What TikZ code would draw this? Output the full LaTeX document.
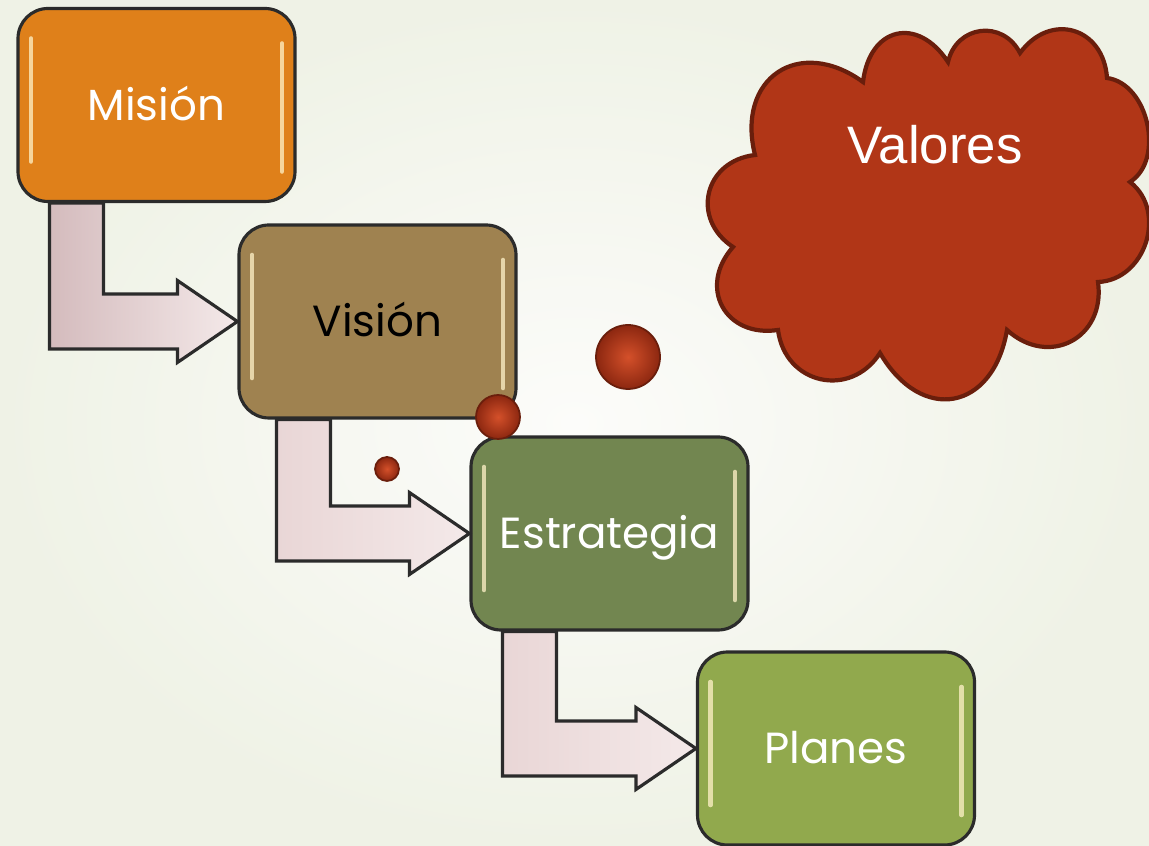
\documentclass[tikz,border=0pt]{standalone}
\usepackage{fontspec}
\newfontfamily\boxfont{Poppins}
\newfontfamily\cloudfont{Liberation Sans}
\usetikzlibrary{calc}

\definecolor{bginner}{HTML}{FCFCFA}
\definecolor{bgouter}{HTML}{EFF2E6}
\definecolor{boxline}{HTML}{2B2B2B}
\definecolor{boxshine}{HTML}{FFF2C8}
\definecolor{misioncolor}{HTML}{DF801A}
\definecolor{visioncolor}{HTML}{9F8250}
\definecolor{estrategiacolor}{HTML}{728650}
\definecolor{planescolor}{HTML}{91A94D}
\definecolor{arrowdark}{HTML}{D4BBBD}
\definecolor{arrowpink}{HTML}{E9D6D6}
\definecolor{arrowpale}{HTML}{F4E9E9}
\definecolor{cloudred}{HTML}{B13617}
\definecolor{cloudline}{HTML}{6A1E0C}
\definecolor{bubblelight}{HTML}{D4502A}
\definecolor{bubbledark}{HTML}{8C2710}

\tikzset{
  shine/.style={draw=boxshine, line width=1.3pt, opacity=0.75, line cap=round},
  stepbox/.style={draw=boxline, line width=0.9pt, rounded corners=0.3cm,
    minimum width=2.77cm, minimum height=1.93cm, inner sep=0pt,
    font=\boxfont\fontsize{12.4}{14}\selectfont, text=white,
    text height=8.7pt, text depth=0pt,
    path picture={
      \draw[shine] ([xshift=0.13cm,yshift=-0.3cm]path picture bounding box.north west)
        -- ([xshift=0.13cm,yshift=0.4cm]path picture bounding box.south west);
      \draw[shine] ([xshift=-0.13cm,yshift=-0.35cm]path picture bounding box.north east)
        -- ([xshift=-0.13cm,yshift=0.3cm]path picture bounding box.south east);
    }},
  bentarrow/.style={draw=boxline, line width=0.9pt, left color=#1, right color=arrowpale},
  bubble/.style={circle, draw=cloudline, line width=0.5pt, inner sep=0pt,
    inner color=bubblelight, outer color=bubbledark},
  puff/.style={bend left=70, looseness=#1},
}

% bent arrow from the bottom of one box to the left side of the next
\newcommand{\stepconnect}[4]{%
  \draw[bentarrow=#4] let \p1=(#1.south west), \p2=(#2.west) in
       (\x1+#3,\y1)
    -- (\x1+#3,\y2-0.275cm)
    -- (\x2-0.6cm,\y2-0.275cm)
    -- (\x2-0.6cm,\y2-0.41cm)
    -- (\p2)
    -- (\x2-0.6cm,\y2+0.41cm)
    -- (\x2-0.6cm,\y2+0.275cm)
    -- (\x1+#3+0.54cm,\y2+0.275cm)
    -- (\x1+#3+0.54cm,\y1)
    -- cycle;}

\begin{document}
\begin{tikzpicture}
  \useasboundingbox (0,0) rectangle (11.49,8.46);
  % background
  \shade[inner color=bginner, outer color=bgouter] (0,0) rectangle (11.49,8.46);

  % cloud
  \draw[fill=cloudred, draw=cloudline, line width=1.2pt]
       (7.55,6.91)
    to[puff=1.55] (8.63,7.64)
    to[puff=1.63] (9.48,7.84)
    to[puff=1.34] (10.20,7.93)
    to[puff=1.45] (11.07,7.68)
    to[puff=1.0]  (11.30,6.64)
    to[puff=1.16] (10.98,5.64)
    to[puff=1.41] (10.07,5.16)
    to[puff=1.63] (8.80,4.93)
    to[puff=1.34] (7.78,5.16)
    to[puff=1.45] (7.33,5.99)
    to[puff=1.38] (7.55,6.91) -- cycle;
  \node[font=\cloudfont\fontsize{15}{18}\selectfont, text=white,
        text height=10.8pt, text depth=0pt] (valores) at (9.35,7.01) {Valores};

  % steps
  \node[stepbox, fill=misioncolor] (mision) at (1.565,7.41) {Misión};
  \node[stepbox, fill=visioncolor, text=black] (vision) at (3.775,5.245) {Visión};
  \node[stepbox, fill=estrategiacolor] (estrategia) at (6.095,3.125) {Estrategia};
  \node[stepbox, fill=planescolor] (planes) at (8.36,0.975) {Planes};

  \stepconnect{mision}{vision}{0.33cm}{arrowdark}
  \stepconnect{vision}{estrategia}{0.39cm}{arrowpink}
  \stepconnect{estrategia}{planes}{0.33cm}{arrowpink}

  % bubbles up to the cloud
  \node[bubble, minimum size=0.24cm] (bubblesmall) at (3.87,3.77) {};
  \node[bubble, minimum size=0.44cm] (bubblemid) at (4.98,4.29) {};
  \node[bubble, minimum size=0.64cm] (bubblebig) at (6.28,4.89) {};
\end{tikzpicture}
\end{document}
